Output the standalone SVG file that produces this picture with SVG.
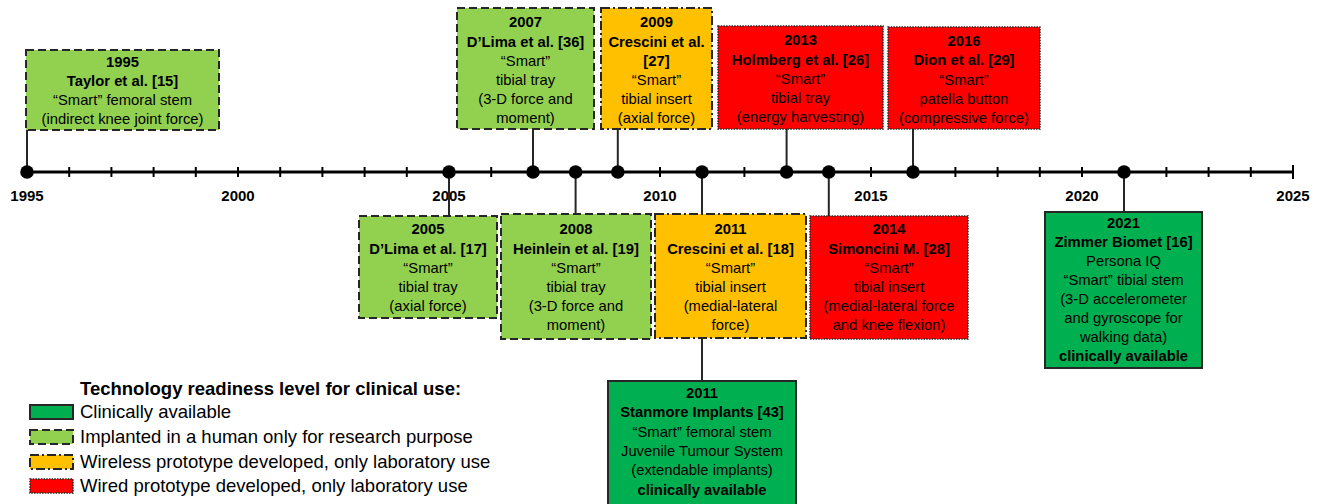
<svg xmlns="http://www.w3.org/2000/svg" width="1320" height="504" viewBox="0 0 1320 504">
<style>
text{font-family:"Liberation Sans",Arial,sans-serif;fill:#000}
.t{font-size:14.8px;text-anchor:middle}
.b{font-weight:bold}
.yr{font-size:15px;font-weight:bold;text-anchor:middle}
.lg{font-size:18.5px}
.res{fill:#92D050;stroke:#262626;stroke-width:2;stroke-dasharray:8 4}
.wl{fill:#FFC000;stroke:#262626;stroke-width:2;stroke-dasharray:9 3 2 3}
.wd{fill:#FF0000;stroke:#262626;stroke-width:1.5;stroke-dasharray:1.5 1.2}
.cl{fill:#00B050;stroke:#262626;stroke-width:2}
.con{stroke:#262626;stroke-width:2;fill:none}
</style>
<g id="axis">
<line x1="27" y1="172" x2="1293" y2="172" stroke="#000" stroke-width="3"/>
<g stroke="#000" stroke-width="2">
<line x1="69.2" y1="167" x2="69.2" y2="177"/><line x1="111.4" y1="167" x2="111.4" y2="177"/><line x1="153.6" y1="167" x2="153.6" y2="177"/><line x1="195.8" y1="167" x2="195.8" y2="177"/><line x1="238" y1="167" x2="238" y2="177"/><line x1="280.2" y1="167" x2="280.2" y2="177"/><line x1="322.4" y1="167" x2="322.4" y2="177"/><line x1="364.6" y1="167" x2="364.6" y2="177"/><line x1="406.8" y1="167" x2="406.8" y2="177"/><line x1="491.2" y1="167" x2="491.2" y2="177"/><line x1="660" y1="167" x2="660" y2="177"/><line x1="744.4" y1="167" x2="744.4" y2="177"/><line x1="871" y1="167" x2="871" y2="177"/><line x1="955.4" y1="167" x2="955.4" y2="177"/><line x1="997.6" y1="167" x2="997.6" y2="177"/><line x1="1039.8" y1="167" x2="1039.8" y2="177"/><line x1="1082" y1="167" x2="1082" y2="177"/><line x1="1166.4" y1="167" x2="1166.4" y2="177"/><line x1="1208.6" y1="167" x2="1208.6" y2="177"/><line x1="1250.8" y1="167" x2="1250.8" y2="177"/><line x1="1293" y1="165" x2="1293" y2="179"/>
</g>
<text class="yr" x="27" y="201">1995</text>
<text class="yr" x="238" y="201">2000</text>
<text class="yr" x="449" y="201">2005</text>
<text class="yr" x="660" y="201">2010</text>
<text class="yr" x="871" y="201">2015</text>
<text class="yr" x="1082" y="201">2020</text>
<text class="yr" x="1293" y="201">2025</text>
</g>
<g id="connectors" class="con">
<line x1="27" y1="130" x2="27" y2="172"/>
<line x1="533" y1="129" x2="533" y2="172"/>
<line x1="617.8" y1="129" x2="617.8" y2="172"/>
<line x1="786.6" y1="129" x2="786.6" y2="172"/>
<line x1="913" y1="129" x2="913" y2="172"/>
<line x1="449" y1="172" x2="449" y2="216"/>
<line x1="575.6" y1="172" x2="575.6" y2="214"/>
<line x1="702" y1="172" x2="702" y2="214"/>
<line x1="828.8" y1="172" x2="828.8" y2="216"/>
<line x1="1124" y1="172" x2="1124" y2="212"/>
<line x1="702" y1="338" x2="702" y2="381"/>
</g>
<g id="dots" fill="#000">
<circle cx="27" cy="172" r="6.8"/><circle cx="449" cy="172" r="6.8"/><circle cx="533" cy="172" r="6.8"/><circle cx="575.6" cy="172" r="6.8"/><circle cx="617.8" cy="172" r="6.8"/><circle cx="702" cy="172" r="6.8"/><circle cx="786.6" cy="172" r="6.8"/><circle cx="828.8" cy="172" r="6.8"/><circle cx="913" cy="172" r="6.8"/><circle cx="1124" cy="172" r="6.8"/>
</g>
<g id="n1995">
<rect class="res" x="26" y="50" width="193" height="80"/>
<text class="t b" x="122.5" y="67">1995</text>
<text class="t b" x="122.5" y="86">Taylor et al. [15]</text>
<text class="t" x="122.5" y="105">“Smart” femoral stem</text>
<text class="t" x="122.5" y="124">(indirect knee joint force)</text>
</g>
<g id="n2007">
<rect class="res" x="457" y="8" width="137" height="121"/>
<text class="t b" x="525.5" y="27">2007</text>
<text class="t b" x="525.5" y="47">D’Lima et al. [36]</text>
<text class="t" x="525.5" y="66">“Smart”</text>
<text class="t" x="525.5" y="85">tibial tray</text>
<text class="t" x="525.5" y="104">(3-D force and</text>
<text class="t" x="525.5" y="123">moment)</text>
</g>
<g id="n2009">
<rect class="wl" x="601" y="8" width="111" height="121"/>
<text class="t b" x="656.5" y="27">2009</text>
<text class="t b" x="656.5" y="47">Crescini et al.</text>
<text class="t b" x="656.5" y="66">[27]</text>
<text class="t" x="656.5" y="85">“Smart”</text>
<text class="t" x="656.5" y="104">tibial insert</text>
<text class="t" x="656.5" y="123">(axial force)</text>
</g>
<g id="n2013">
<rect class="wd" x="718" y="26" width="165" height="103"/>
<text class="t b" x="800.5" y="45">2013</text>
<text class="t b" x="800.5" y="65">Holmberg et al. [26]</text>
<text class="t" x="800.5" y="84">“Smart”</text>
<text class="t" x="800.5" y="103">tibial tray</text>
<text class="t" x="800.5" y="122">(energy harvesting)</text>
</g>
<g id="n2016">
<rect class="wd" x="888" y="27" width="152" height="102"/>
<text class="t b" x="964" y="46">2016</text>
<text class="t b" x="964" y="65">Dion et al. [29]</text>
<text class="t" x="964" y="85">“Smart”</text>
<text class="t" x="964" y="104">patella button</text>
<text class="t" x="964" y="123">(compressive force)</text>
</g>
<g id="n2005">
<rect class="res" x="359" y="216" width="138" height="102"/>
<text class="t b" x="428" y="234">2005</text>
<text class="t b" x="428" y="254">D’Lima et al. [17]</text>
<text class="t" x="428" y="273">“Smart”</text>
<text class="t" x="428" y="292">tibial tray</text>
<text class="t" x="428" y="311">(axial force)</text>
</g>
<g id="n2008">
<rect class="res" x="501" y="214" width="150" height="125"/>
<text class="t b" x="576" y="234">2008</text>
<text class="t b" x="576" y="254">Heinlein et al. [19]</text>
<text class="t" x="576" y="273">“Smart”</text>
<text class="t" x="576" y="292">tibial tray</text>
<text class="t" x="576" y="311">(3-D force and</text>
<text class="t" x="576" y="330">moment)</text>
</g>
<g id="n2011a">
<rect class="wl" x="655" y="214" width="151" height="124"/>
<text class="t b" x="730.5" y="234">2011</text>
<text class="t b" x="730.5" y="254">Crescini et al. [18]</text>
<text class="t" x="730.5" y="273">“Smart”</text>
<text class="t" x="730.5" y="292">tibial insert</text>
<text class="t" x="730.5" y="311">(medial-lateral</text>
<text class="t" x="730.5" y="330">force)</text>
</g>
<g id="n2014">
<rect class="wd" x="810" y="216" width="158" height="123"/>
<text class="t b" x="889" y="234">2014</text>
<text class="t b" x="889" y="254">Simoncini M. [28]</text>
<text class="t" x="889" y="273">“Smart”</text>
<text class="t" x="889" y="292">tibial insert</text>
<text class="t" x="889" y="311">(medial-lateral force</text>
<text class="t" x="889" y="330">and knee flexion)</text>
</g>
<g id="n2021">
<rect class="cl" x="1045" y="212" width="157" height="156"/>
<text class="t b" x="1123.5" y="228">2021</text>
<text class="t b" x="1123.5" y="247">Zimmer Biomet [16]</text>
<text class="t" x="1123.5" y="266">Persona IQ</text>
<text class="t" x="1123.5" y="285">“Smart” tibial stem</text>
<text class="t" x="1123.5" y="304">(3-D accelerometer</text>
<text class="t" x="1123.5" y="323">and gyroscope for</text>
<text class="t" x="1123.5" y="342">walking data)</text>
<text class="t b" x="1123.5" y="361">clinically available</text>
</g>
<g id="n2011b">
<rect class="cl" x="608" y="381" width="188" height="124"/>
<text class="t b" x="702" y="398">2011</text>
<text class="t b" x="702" y="417">Stanmore Implants [43]</text>
<text class="t" x="702" y="437">“Smart” femoral stem</text>
<text class="t" x="702" y="456">Juvenile Tumour System</text>
<text class="t" x="702" y="475">(extendable implants)</text>
<text class="t b" x="702" y="495">clinically available</text>
</g>
<g id="legend">
<text class="lg b" x="80" y="395">Technology readiness level for clinical use:</text>
<rect class="cl" x="30" y="405" width="43" height="14"/>
<text class="lg" x="80" y="418">Clinically available</text>
<rect class="res" x="30" y="430" width="43" height="14"/>
<text class="lg" x="80" y="443">Implanted in a human only for research purpose</text>
<rect class="wl" x="30" y="455" width="43" height="14"/>
<text class="lg" x="80" y="468">Wireless prototype developed, only laboratory use</text>
<rect class="wd" x="30" y="479" width="43" height="14"/>
<text class="lg" x="80" y="492">Wired prototype developed, only laboratory use</text>
</g>
</svg>
